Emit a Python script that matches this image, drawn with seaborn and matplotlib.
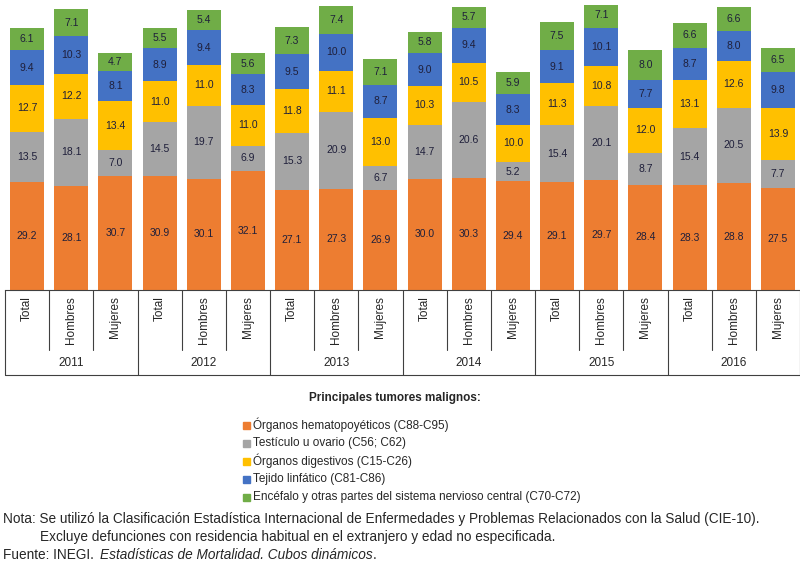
import matplotlib
matplotlib.use("Agg")
import matplotlib.pyplot as plt
import seaborn as sns
import numpy as np
from matplotlib.lines import Line2D
from matplotlib.patches import Rectangle

years = ["2011", "2012", "2013", "2014", "2015", "2016"]
groups = ["Total", "Hombres", "Mujeres"]

organos_hemat = [29.2, 28.1, 30.7, 30.9, 30.1, 32.1, 27.1, 27.3, 26.9, 30.0, 30.3, 29.4, 29.1, 29.7, 28.4, 28.3, 28.8, 27.5]
testiculo = [13.5, 18.1, 7.0, 14.5, 19.7, 6.9, 15.3, 20.9, 6.7, 14.7, 20.6, 5.2, 15.4, 20.1, 8.7, 15.4, 20.5, 7.7]
digestivos = [12.7, 12.2, 13.4, 11.0, 11.0, 11.0, 11.8, 11.1, 13.0, 10.3, 10.5, 10.0, 11.3, 10.8, 12.0, 13.1, 12.6, 13.9]
linfatico = [9.4, 10.3, 8.1, 8.9, 9.4, 8.3, 9.5, 10.0, 8.7, 9.0, 9.4, 8.3, 9.1, 10.1, 7.7, 8.7, 8.0, 9.8]
encefalo = [6.1, 7.1, 4.7, 5.5, 5.4, 5.6, 7.3, 7.4, 7.1, 5.8, 5.7, 5.9, 7.5, 7.1, 8.0, 6.6, 6.6, 6.5]

series = [
    ("Órganos hematopoyéticos (C88-C95)", organos_hemat, "#ED7D31"),
    ("Testículo u ovario (C56; C62)", testiculo, "#A5A5A5"),
    ("Órganos digestivos (C15-C26)", digestivos, "#FFC000"),
    ("Tejido linfático (C81-C86)", linfatico, "#4472C4"),
    ("Encéfalo y otras partes del sistema nervioso central (C70-C72)", encefalo, "#70AD47"),
]

cats = [f"{y} {g}" for y in years for g in groups]
n = len(cats)

sns.set_style("white")
plt.rcParams["font.family"] = ["Liberation Sans", "DejaVu Sans"]

W, H = 800, 564
fig = plt.figure(figsize=(8, 5.64), dpi=100)
ax = fig.add_axes([5 / W, (H - 290) / H, 795 / W, 285 / H])

bottom = np.zeros(n)
for name, vals, col in series:
    vals = np.array(vals)
    sns.barplot(x=cats, y=vals, bottom=bottom, color=col, width=0.77, ax=ax,
                saturation=1, edgecolor="none")
    for i, v in enumerate(vals):
        ax.text(i, bottom[i] + v / 2, f"{v:.1f}", ha="center", va="center",
                fontsize=7.5, color="#1F1F3A")
    bottom += vals

ax.set_xlim(-0.5, n - 0.5)
ax.set_ylim(0, 77)
ax.set_xticks([])
ax.set_yticks([])
ax.set_xlabel("")
for s in ["top", "left", "right"]:
    ax.spines[s].set_visible(False)
ax.spines["bottom"].set_color("#404040")


def fx(i):
    return (5 + (i + 0.5) / n * 795) / W


def fy(py):
    return (H - py) / H


for i in range(n + 1):
    x = (5 + i / n * 795) / W
    y2 = 375 if i % 3 == 0 else 350
    fig.add_artist(Line2D([x, x], [fy(290), fy(y2)], color="#404040", lw=0.8))
fig.add_artist(Line2D([5 / W, 1], [fy(375), fy(375)], color="#404040", lw=0.8))
for i, c in enumerate(cats):
    fig.text(fx(i), fy(296), groups[i % 3], rotation=90, ha="center", va="top", fontsize=8.5)
for k, y in enumerate(years):
    fig.text(fx(3 * k + 1), fy(363), y, ha="center", va="center", fontsize=8.5)

# legend
fig.text(395 / W, fy(398), "Principales tumores malignos:", ha="center", va="center",
         fontsize=8.5, fontweight="bold")
for j, (name, vals, col) in enumerate(series):
    yy = 425 + 18 * j
    fig.add_artist(Rectangle((243 / W, fy(yy + 3.5)), 7 / W, 7 / H, color=col))
    fig.text(253 / W, fy(yy), name, ha="left", va="center", fontsize=8.5)

fig.text(3 / W, fy(519), "Nota: Se utilizó la Clasificación Estadística Internacional de Enfermedades y Problemas Relacionados con la Salud (CIE-10).",
         ha="left", va="center", fontsize=9.8)
fig.text(40 / W, fy(537), "Excluye defunciones con residencia habitual en el extranjero y edad no especificada.",
         ha="left", va="center", fontsize=9.8)
t1 = fig.text(3 / W, fy(555), "Fuente: INEGI. ", ha="left", va="center", fontsize=9.8)
r = fig.canvas.get_renderer()
bb = t1.get_window_extent(r)
t2 = fig.text((bb.x1 + 2) / W, fy(555), "Estadísticas de Mortalidad. Cubos dinámicos",
              ha="left", va="center", fontsize=9.8, style="italic")
bb2 = t2.get_window_extent(r)
fig.text(bb2.x1 / W, fy(555), ".", ha="left", va="center", fontsize=9.8)

fig.savefig("out.png", dpi=100)
